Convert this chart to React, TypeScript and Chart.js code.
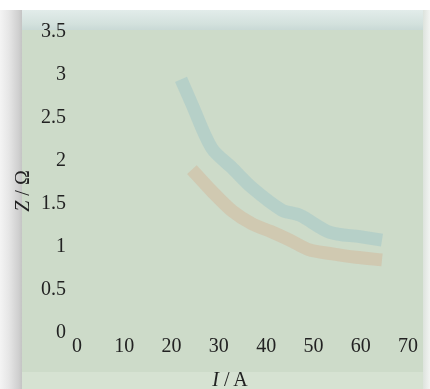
import React, { useEffect, useRef } from "react";
import { Chart, registerables } from "chart.js";

Chart.register(...registerables);

const currentBlue = [22, 24.3, 28.5, 32.8, 37, 43.3, 47.1, 53.5, 59.8, 64.5];
const impedanceBlue = [2.95, 2.66, 2.15, 1.92, 1.69, 1.43, 1.37, 1.17, 1.12, 1.08];
const currentRed = [24.3, 28.5, 32.8, 37, 41, 45, 49, 54, 59, 64.5];
const impedanceRed = [1.9, 1.65, 1.42, 1.27, 1.18, 1.08, 0.97, 0.92, 0.88, 0.85];
const xTicks = [0, 10, 20, 30, 40, 50, 60, 70];
const yTicks = [0, 0.5, 1, 1.5, 2, 2.5, 3, 3.5];

const FONT = "'Liberation Serif', 'DejaVu Serif', serif";

export default function App() {
  const ref = useRef<HTMLCanvasElement>(null);
  useEffect(() => {
    if (!ref.current) return;
    const chart = new Chart(ref.current, {
      type: "line",
      data: {
        datasets: [
          {
            data: currentBlue.map((x, i) => ({ x, y: impedanceBlue[i] })),
            borderColor: "rgba(150,192,200,0.42)",
            borderWidth: 13,
            pointRadius: 0,
            tension: 0.3,
          },
          {
            data: currentRed.map((x, i) => ({ x, y: impedanceRed[i] })),
            borderColor: "rgba(214,170,140,0.38)",
            borderWidth: 13,
            pointRadius: 0,
            tension: 0.3,
          },
        ],
      },
      options: {
        animation: false,
        responsive: false,
        maintainAspectRatio: false,
        layout: { padding: { left: 0, right: 22, top: 32, bottom: 0 } },
        plugins: { legend: { display: false }, tooltip: { enabled: false } },
        scales: {
          x: {
            type: "linear",
            min: 0,
            max: 70,
            afterBuildTicks: (s: any) => {
              s.ticks = xTicks.map((v) => ({ value: v }));
            },
            afterFit: (s: any) => {
              s.height = 389 - 333;
            },
            grid: { display: false, drawTicks: false },
            border: { display: false },
            ticks: {
              padding: 2,
              color: "#222",
              font: { family: FONT, size: 20 },
              maxRotation: 0,
              callback: (v: any) => String(v),
            },
          },
          y: {
            type: "linear",
            min: 0,
            max: 3.5,
            afterBuildTicks: (s: any) => {
              s.ticks = yTicks.map((v) => ({ value: v }));
            },
            afterFit: (s: any) => {
              s.width = 77;
            },
            grid: { display: false, drawTicks: false },
            border: { display: false },
            ticks: {
              padding: 11,
              color: "#222",
              font: { family: FONT, size: 20 },
              callback: (v: any) => String(v),
            },
          },
        },
      },
    });
    return () => chart.destroy();
  }, []);

  return (
    <div
      style={{
        position: "fixed",
        left: 0,
        top: 0,
        width: 430,
        height: 389,
        background: "#ffffff",
        overflow: "hidden",
        fontFamily: FONT,
      }}
    >
      <div
        style={{
          position: "absolute",
          left: 0,
          top: 10,
          width: 22,
          height: 379,
          background: "linear-gradient(to right, #f4f4f4 0%, #e6e6e6 40%, #cfcfcf 85%, #c4c4c4 100%)",
        }}
      />
      <div
        style={{
          position: "absolute",
          left: 22,
          top: 10,
          width: 401,
          height: 379,
          background: "#cddbc9",
        }}
      />
      <div
        style={{
          position: "absolute",
          left: 22,
          top: 10,
          width: 401,
          height: 20,
          background: "linear-gradient(to bottom, #e2ecea 0%, #d3e1dd 70%, #c9d9d6 100%)",
        }}
      />
      <div
        style={{
          position: "absolute",
          left: 22,
          top: 372,
          width: 401,
          height: 17,
          background: "#d6e2d2",
        }}
      />
      <div
        style={{
          position: "absolute",
          left: 423,
          top: 10,
          width: 7,
          height: 379,
          background: "linear-gradient(to right, #dde3dd, #f2f4f2)",
        }}
      />
      <canvas
        ref={ref}
        width={430}
        height={389}
        style={{ position: "absolute", left: 0, top: 0, width: 430, height: 389 }}
      />
      <div
        style={{
          position: "absolute",
          left: 200,
          top: 368,
          width: 60,
          textAlign: "center",
          fontSize: 20,
          color: "#222",
          whiteSpace: "nowrap",
          lineHeight: "22px",
        }}
      >
        <i>I</i> / A
      </div>
      <div
        style={{
          position: "absolute",
          left: 22 - 30,
          top: 191 - 11,
          width: 60,
          height: 22,
          textAlign: "center",
          fontSize: 20,
          color: "#222",
          whiteSpace: "nowrap",
          lineHeight: "22px",
          transform: "rotate(-90deg)",
        }}
      >
        <i>Z</i> / Ω
      </div>
    </div>
  );
}
